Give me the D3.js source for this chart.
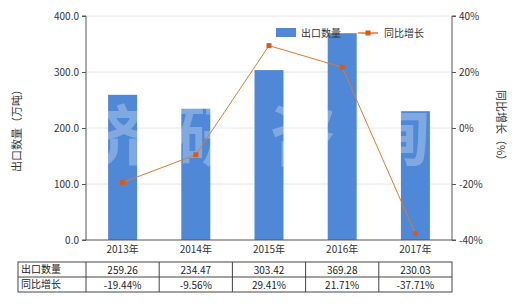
<!DOCTYPE html>
<html><head><meta charset="utf-8">
<script src="https://cdn.jsdelivr.net/npm/d3@7/dist/d3.min.js"></script>
<style>
body{margin:0;background:#fff;}
text{font-family:"Microsoft YaHei","Noto Sans CJK SC",sans-serif;}
</style></head>
<body><svg id="c" width="522" height="304"></svg>
<script>
const years = ["2013年","2014年","2015年","2016年","2017年"];
const exportQty = [259.26, 234.47, 303.42, 369.28, 230.03];
const growth = [-19.44, -9.56, 29.41, 21.71, -37.71];
const leftTicks = [0, 100, 200, 300, 400];
const rightTicks = [-40, -20, 0, 20, 40];
const seriesNames = ["出口数量", "同比增长"];

const svg = d3.select("#c");
const L = 86, R = 452, T = 16, B = 240;
const barColor = "#4f88d6", lineColor = "#e0782f", axisColor = "#555";

const x = d3.scaleBand().domain(years).range([L, R]).paddingInner(0.6).paddingOuter(0.3);
const xc = d3.scaleBand().domain(years).range([L, R]);
const yL = d3.scaleLinear().domain([0, 400]).range([B, T]);
const yR = d3.scaleLinear().domain([-40, 40]).range([B, T]);

// gridlines
svg.append("g").selectAll("line").data(leftTicks.slice(1)).join("line")
  .attr("x1", L).attr("x2", R).attr("y1", d => yL(d)).attr("y2", d => yL(d))
  .attr("stroke", "#e6e6e6").attr("stroke-width", 1);

// bars
svg.append("g").selectAll("rect").data(exportQty).join("rect")
  .attr("x", (d, i) => xc(years[i]) + xc.bandwidth()/2 - 14.5)
  .attr("width", 29)
  .attr("y", d => yL(d)).attr("height", d => B - yL(d))
  .attr("fill", barColor);

// watermark
svg.append("text").attr("x", 270).attr("y", 160).attr("text-anchor", "middle")
  .attr("font-size", 66).attr("font-weight", "bold").attr("fill", "#fff").attr("fill-opacity", 0.28)
  .attr("letter-spacing", 28).text("济研咨询");

// growth line
const line = d3.line().x((d, i) => xc(years[i]) + xc.bandwidth()/2).y(d => yR(d));
svg.append("path").datum(growth).attr("d", line).attr("fill", "none")
  .attr("stroke", lineColor).attr("stroke-width", 1);
svg.append("g").selectAll("rect").data(growth).join("rect")
  .attr("x", (d, i) => xc(years[i]) + xc.bandwidth()/2 - 2.5)
  .attr("y", d => yR(d) - 2.5).attr("width", 5).attr("height", 5).attr("fill", "#d85a1a");

// left axis
const gl = svg.append("g").attr("transform", `translate(${L},0)`)
  .call(d3.axisLeft(yL).tickValues(leftTicks).tickFormat(d3.format(".1f")).tickSize(4));
// right axis
const gr = svg.append("g").attr("transform", `translate(${R},0)`)
  .call(d3.axisRight(yR).tickValues(rightTicks).tickFormat(d => d + "%").tickSize(4));
// bottom axis
const gb = svg.append("g").attr("transform", `translate(0,${B})`)
  .call(d3.axisBottom(xc).tickSize(0).tickPadding(6));
[gl, gr, gb].forEach(g => {
  g.selectAll("path,line").attr("stroke", axisColor);
  g.selectAll("text").attr("font-size", 10).attr("fill", "#333")
   .style("font-family", "'Microsoft YaHei','Noto Sans CJK SC',sans-serif");
});
gl.select(".domain").attr("d", `M-4,${T}H0V${B}H-4`);
gr.select(".domain").attr("d", `M4,${T}H0V${B}H4`);
gb.select(".domain").attr("d", `M${L},0H${R}`);

// axis titles
svg.append("text").attr("transform", `translate(21,128) rotate(-90)`).attr("text-anchor", "middle")
  .attr("font-size", 11).attr("fill", "#333").text("出口数量（万吨）");
svg.append("text").attr("transform", `translate(497,128) rotate(90)`).attr("text-anchor", "middle")
  .attr("font-size", 11).attr("fill", "#333").text("同比增长（%）");

// legend
const lg = svg.append("g");
lg.append("rect").attr("x", 276).attr("y", 28).attr("width", 20).attr("height", 9).attr("fill", barColor);
lg.append("text").attr("x", 301).attr("y", 37).attr("font-size", 10).attr("fill", "#333").text(seriesNames[0]);
lg.append("line").attr("x1", 358).attr("x2", 378).attr("y1", 33).attr("y2", 33).attr("stroke", lineColor).attr("stroke-width", 1.5);
lg.append("rect").attr("x", 365.5).attr("y", 30.5).attr("width", 5).attr("height", 5).attr("fill", "#d85a1a");
lg.append("text").attr("x", 384).attr("y", 37).attr("font-size", 10).attr("fill", "#333").text(seriesNames[1]);

// data table
const tT = 262, tM = 277, tB = 292, tL = 18;
const tbl = svg.append("g");
tbl.append("rect").attr("x", tL).attr("y", tT).attr("width", R - tL).attr("height", tB - tT)
  .attr("fill", "none").attr("stroke", "#444");
tbl.append("line").attr("x1", tL).attr("x2", R).attr("y1", tM).attr("y2", tM).attr("stroke", "#444");
tbl.selectAll("line.v").data(years).join("line").attr("class", "v")
  .attr("x1", d => xc(d)).attr("x2", d => xc(d)).attr("y1", tT).attr("y2", tB).attr("stroke", "#444");
tbl.append("text").attr("x", tL + 3).attr("y", tT + 11).attr("font-size", 10).attr("fill", "#222").text(seriesNames[0]);
tbl.append("text").attr("x", tL + 3).attr("y", tM + 11).attr("font-size", 10).attr("fill", "#222").text(seriesNames[1]);
tbl.selectAll("text.q").data(exportQty).join("text").attr("class", "q")
  .attr("x", (d, i) => xc(years[i]) + xc.bandwidth()/2).attr("y", tT + 12).attr("text-anchor", "middle")
  .attr("font-size", 10).attr("fill", "#222").text(d => d.toFixed(2));
tbl.selectAll("text.g").data(growth).join("text").attr("class", "g")
  .attr("x", (d, i) => xc(years[i]) + xc.bandwidth()/2).attr("y", tM + 12).attr("text-anchor", "middle")
  .attr("font-size", 10).attr("fill", "#222").text(d => d.toFixed(2) + "%");
</script></body></html>
